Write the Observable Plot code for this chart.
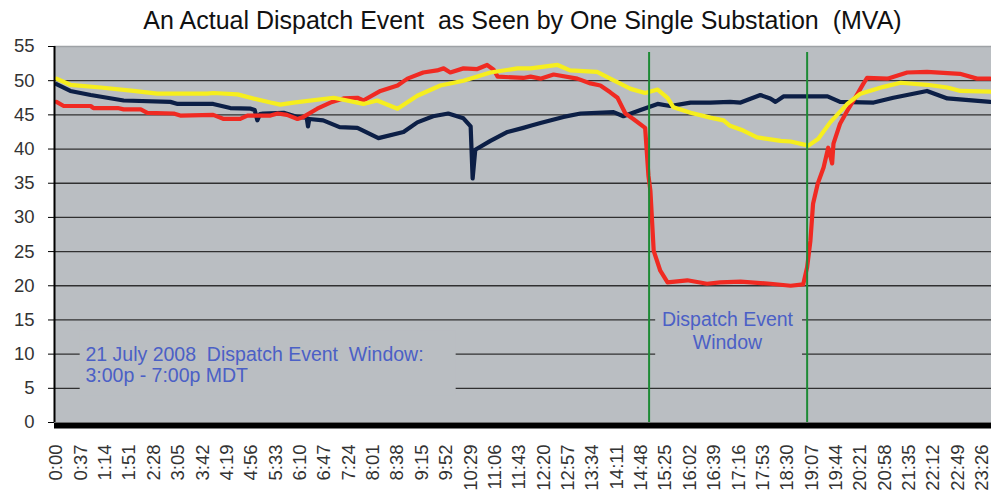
<!DOCTYPE html>
<html><head><meta charset="utf-8">
<script src="https://cdn.jsdelivr.net/npm/d3@7"></script>
<script src="https://cdn.jsdelivr.net/npm/@observablehq/plot@0.6"></script>
<style>
body{margin:0;background:#fff;}
#title{height:36px;line-height:40px;padding-left:54px;text-align:center;font-family:"Liberation Sans",Arial,sans-serif;font-size:25px;color:#111;white-space:pre;}
svg text{white-space:pre;}
</style></head><body>
<div id="title">An Actual Dispatch Event  as Seen by One Single Substation  (MVA)</div>
<div id="chart"></div>
<script>
const navyTime = ["0:00","0:21","0:52","1:42","2:53","3:04","3:58","4:24","4:55","5:01","5:05","5:09","5:14","5:45","5:55","6:06","6:20","6:22","6:24","6:45","7:10","7:37","8:09","8:47","9:08","9:32","9:55","10:18","10:29","10:32","10:36","10:59","11:25","11:49","12:00","12:15","12:50","13:16","14:06","14:21","14:47","15:13","15:32","16:03","16:33","17:03","17:19","17:49","18:04","18:12","18:24","19:31","19:50","20:41","21:11","22:02","22:33","23:38"];
const navyMVA = [49.5,48.5,47.9,47.1,46.9,46.6,46.6,46.0,45.9,45.7,44.2,45.1,45.2,45.3,45.0,44.7,44.6,43.3,44.4,44.2,43.2,43.1,41.6,42.5,43.9,44.8,45.2,44.5,43.3,35.7,39.9,41.2,42.5,43.1,43.4,43.8,44.7,45.2,45.4,44.8,45.7,46.6,46.3,46.8,46.8,46.9,46.8,47.9,47.4,46.9,47.7,47.7,46.9,46.8,47.5,48.5,47.4,46.9];

const redTime = ["0:00","0:11","0:52","0:56","1:33","1:42","2:08","2:18","2:58","3:08","3:58","4:14","4:39","4:50","5:25","5:36","5:50","6:06","6:15","6:36","6:56","7:16","7:37","7:46","8:12","8:38","8:53","9:17","9:38","9:48","9:58","10:18","10:39","10:54","11:04","11:10","11:49","12:00","12:15","12:35","13:11","13:31","13:46","14:01","14:12","14:24","14:36","14:54","14:59","15:02","15:07","15:17","15:28","15:58","16:28","16:48","17:19","18:04","18:35","18:54","19:00","19:05","19:09","19:16","19:25","19:32","19:38","19:40","19:50","20:01","20:16","20:25","20:31","21:02","21:32","22:02","22:52","23:18","23:38"];
const redMVA = [46.9,46.3,46.3,46.0,46.0,45.8,45.8,45.3,45.2,44.9,45.0,44.4,44.4,44.9,44.9,45.2,45.0,44.4,44.7,45.9,46.8,47.4,47.5,47.1,48.5,49.3,50.3,51.2,51.5,51.8,51.2,51.8,51.7,52.3,51.6,50.6,50.4,50.6,50.3,50.9,50.3,49.6,49.3,48.3,47.5,45.2,44.4,43.1,36.1,33.9,25.1,22.2,20.5,20.8,20.3,20.5,20.6,20.3,20.0,20.2,22.7,26.6,32.0,34.9,37.3,40.2,37.9,40.8,43.7,45.6,48.0,49.5,50.4,50.3,51.2,51.3,51.0,50.3,50.3];

const yellowTime = ["0:00","0:21","1:07","1:57","2:33","3:49","3:58","4:35","4:59","5:25","5:40","6:00","7:01","7:46","8:07","8:38","9:08","9:43","10:18","10:59","11:40","12:00","12:41","13:00","13:41","14:01","14:32","14:54","15:13","15:28","15:37","16:03","16:33","16:53","17:03","17:23","17:44","18:20","18:35","19:02","19:17","19:35","20:01","20:21","20:56","21:22","22:02","22:33","22:53","23:38"];
const yellowMVA = [50.3,49.4,49.0,48.5,48.1,48.1,48.2,48.0,47.4,46.8,46.5,46.8,47.5,46.6,47.1,45.9,47.8,49.3,50.0,51.2,51.8,51.8,52.3,51.5,51.3,50.3,48.8,48.2,48.7,47.5,46.1,45.3,44.6,44.2,43.4,42.7,41.7,41.2,41.1,40.5,41.5,43.9,46.6,48.1,49.1,49.7,49.4,49.0,48.5,48.4];

const yTicks = [0,5,10,15,20,25,30,35,40,45,50,55];
const gridValues = [5,10,15,20,25,30,35,40,45,50];
const xTickLabels = ["0:00","0:37","1:14","1:51","2:28","3:05","3:42","4:19","4:56","5:33","6:10","6:47","7:24","8:01","8:38","9:15","9:52","10:29","11:06","11:43","12:20","12:57","13:34","14:11","14:48","15:25","16:02","16:39","17:16","17:53","18:30","19:07","19:44","20:21","20:58","21:35","22:12","22:49","23:26"];
const windowTimes = ["15:00","19:00"];
const noteDateText = "21 July 2008  Dispatch Event  Window:\n3:00p - 7:00p MDT";
const noteWindowText = "Dispatch Event\nWindow";
const noteTime = ["0:44", "16:59"];
const noteMVA = [8.5, 13.5];
const noteBox = [{t1:"0:36", t2:"10:07", v1:3.9, v2:13.4}, {t1:"15:10", t2:"18:53", v1:8.3, v2:17.1}];

const toMin = s => { const [h, m] = s.split(":").map(Number); return h * 60 + m; };
const build = (times, vals, name) => times.map((t, i) => ({series: name, t: toMin(t), v: vals[i]}));
const navy = build(navyTime, navyMVA, "navy");
const red = build(redTime, redMVA, "red");
const yellow = build(yellowTime, yellowMVA, "yellow");
const boxes = noteBox.map(b => ({t1: toMin(b.t1), t2: toMin(b.t2), v1: b.v1, v2: b.v2}));
const BG = "#babec2";
const NOTE = "#4b60c6";

const chart = Plot.plot({
  width: 991, height: 457,
  marginLeft: 54, marginRight: 0, marginTop: 10, marginBottom: 71,
  style: {fontFamily: "'Liberation Sans', Arial, sans-serif", fontSize: "18px", color: "#333", overflow: "visible", background: "transparent"},
  x: {type: "linear", domain: [-3, 1420], axis: null},
  y: {domain: [0, 55], axis: null},
  marks: [
    Plot.frame({fill: BG, stroke: null}),
    Plot.ruleY([55], {stroke: "#9ea2a6", strokeWidth: 1.5}),
    Plot.ruleY(gridValues, {stroke: "#303030", strokeWidth: 1.3}),
    Plot.rect(boxes, {x1: "t1", x2: "t2", y1: "v1", y2: "v2", fill: BG}),
    Plot.line(navy, {x: "t", y: "v", stroke: "#0c1f46", strokeWidth: 4.2, strokeLinejoin: "round", strokeLinecap: "round"}),
    Plot.line(red, {x: "t", y: "v", stroke: "#f02a22", strokeWidth: 4.2, strokeLinejoin: "round", strokeLinecap: "round"}),
    Plot.line(yellow, {x: "t", y: "v", stroke: "#f6ee1e", strokeWidth: 4.2, strokeLinejoin: "round", strokeLinecap: "round"}),
    Plot.ruleY([0], {stroke: "#000", strokeWidth: 6, dy: 3}),
    Plot.ruleX(windowTimes.map(toMin), {stroke: "#1d8a35", strokeWidth: 2, y1: 0, y2: 55, insetBottom: -6}),
    Plot.ruleX([-3], {stroke: "#000", strokeWidth: 2, y1: 0, y2: 55}),
    Plot.axisY({ticks: yTicks, tickSize: 6, tickPadding: 14, fontSize: 18.5, stroke: "#000"}),
    Plot.axisX({ticks: xTickLabels.map(toMin), tickFormat: m => `${Math.floor(m / 60)}:${String(m % 60).padStart(2, "0")}`, tickRotate: -90, tickSize: 0, tickPadding: 22, fontSize: 18.5}),
    Plot.text([noteDateText], {x: toMin(noteTime[0]), y: noteMVA[0], text: d => d, fill: NOTE, fontSize: 19.5, lineHeight: 1.1, textAnchor: "start"}),
    Plot.text([noteWindowText], {x: toMin(noteTime[1]), y: noteMVA[1], text: d => d, fill: NOTE, fontSize: 19.5, lineHeight: 1.18, textAnchor: "middle"})
  ]
});
document.getElementById("chart").appendChild(chart);
</script>
</body></html>
